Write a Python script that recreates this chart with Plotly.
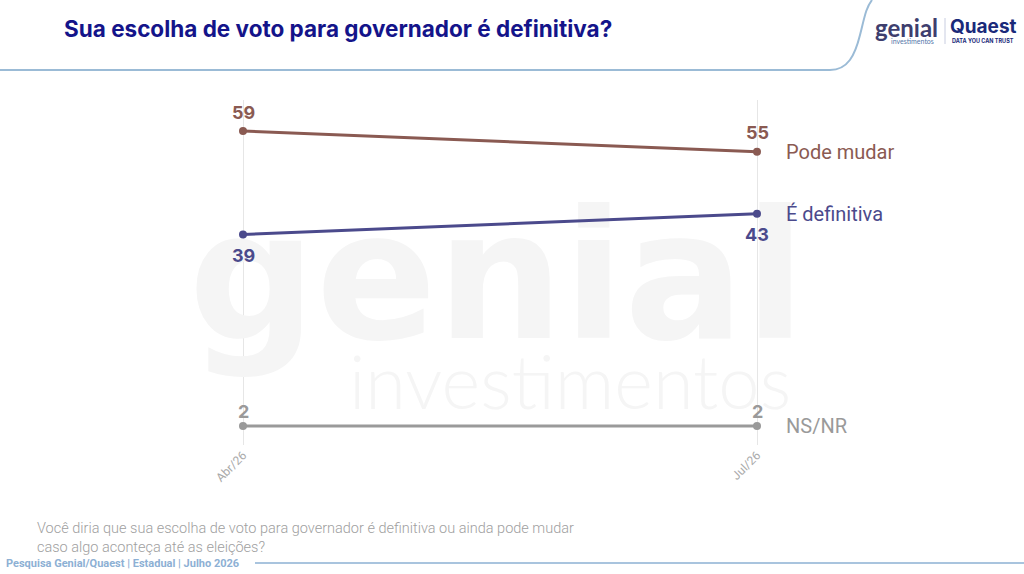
import plotly.graph_objects as go

# ── dados ─────────────────────────────────────────────────────────────────────
periodos = ["Abr/26", "Jul/26"]
pode_mudar = [59, 55]
definitiva = [39, 43]
ns_nr = [2, 2]

# nome, valores, cor, deslocamento do rótulo (px)
series = [
    ("Pode mudar", pode_mudar, "#8a5a52", 19),
    ("É definitiva", definitiva, "#4b4a8c", -21),
    ("NS/NR", ns_nr, "#9a9a9a", 15),
]

W, H = 1024, 574
L, R, T, B = 200, 224, 100, 129
PW, PH = W - L - R, H - T - B


def px(x, y):
    """pixel -> coordenadas paper"""
    return (x - L) / PW, (H - B - y) / PH


def dx(x, y):
    """pixel -> coordenadas de dados (só para a marca d'água)"""
    return (x - 243) / 514, 2 + (426 - y) / 5.175


def texto(x, y, txt, **fonte):
    xx, yy = px(x, y)
    fig.add_annotation(x=xx, y=yy, xref="paper", yref="paper", text=txt,
                       showarrow=False, xanchor="center", yanchor="middle",
                       font=fonte)


fig = go.Figure()

# marca d'água (traço desenhado primeiro para ficar por baixo)
wm = [("genial", 497, 294, 178, "DejaVu Sans", 700),
      ("investimentos", 570, 390, 74, "Lato", 300)]
for txt, wxp, wyp, sz, fam, wt in wm:
    wx, wy = dx(wxp, wyp)
    fig.add_trace(go.Scatter(x=[wx], y=[wy], mode="text", text=[txt],
                             textfont=dict(family=fam, size=sz, color="#f5f5f5", weight=wt),
                             showlegend=False, hoverinfo="skip", cliponaxis=False))

xs = list(range(len(periodos)))
for nome, vals, cor, desloc in series:
    fig.add_trace(go.Scatter(
        x=xs, y=vals, mode="lines+markers",
        line=dict(color=cor, width=3), marker=dict(color=cor, size=8),
        showlegend=False, cliponaxis=False,
    ))
    for xi, v in zip(xs, vals):
        fig.add_annotation(x=xi, y=v, xref="x", yref="y", text=f"<b>{v}</b>",
                           showarrow=False, xanchor="center", yanchor="middle",
                           yshift=desloc,
                           font=dict(family="Inter", size=18, color=cor))
    fig.add_annotation(x=xs[-1], y=vals[-1], xref="x", yref="y", text=nome,
                       showarrow=False, xanchor="left", xshift=27,
                       font=dict(family="Roboto", size=20, color=cor))

# título
tx, ty = px(62, 28)
fig.add_annotation(x=tx, y=ty, xref="paper", yref="paper",
                   text="<b>Sua escolha de voto para governador é definitiva?</b>",
                   showarrow=False, xanchor="left", yanchor="middle",
                   font=dict(family="Inter", size=22.5, color="#14148a"))

# logos
texto(906, 27, "genial", family="Lato", size=24, color="#3e3e6e", weight=700)
texto(912, 41, "investimentos", family="Lato", size=7, color="#5577aa")
a0, a1 = px(945, 18), px(945, 44)
fig.add_shape(type="line", xref="paper", yref="paper", x0=a0[0], y0=a0[1], x1=a1[0], y1=a1[1],
              line=dict(color="#c8cde0", width=1))
texto(983, 26, "<b>Quaest</b>", family="Inter", size=19, color="#1a2a7a")
texto(983, 41, "<b>DATA YOU CAN TRUST</b>", family="Inter", size=5.5, color="#1a2a7a")

# pergunta
qx, qy = px(35, 538)
fig.add_annotation(x=qx, y=qy, xref="paper", yref="paper",
                   text="Você diria que sua escolha de voto para governador é definitiva ou ainda pode mudar<br>caso algo aconteça até as eleições?",
                   showarrow=False, xanchor="left", yanchor="middle", align="left",
                   font=dict(family="Roboto", size=14.5, color="#a0a0a0", weight=300))

# rodapé
fx, fy = px(4, 563)
fig.add_annotation(x=fx, y=fy, xref="paper", yref="paper",
                   text="<b>Pesquisa Genial/Quaest | Estadual | Julho 2026</b>",
                   showarrow=False, xanchor="left", yanchor="middle",
                   font=dict(family="Roboto", size=11, color="#8db0d4"))

x0, y0 = px(255, 563)
x1, y1 = px(1024, 563)
fig.add_shape(type="line", xref="paper", yref="paper", x0=x0, y0=y0, x1=x1, y1=y1,
              line=dict(color="#a9c4de", width=2))

# curva do cabeçalho
a = px(0, 70)
b = px(830, 70)
c1 = px(848, 70)
c2 = px(855, 55)
c = px(860, 35)
s2 = px(866, 8)
d = px(872, 0)
path = (f"M {a[0]} {a[1]} L {b[0]} {b[1]} "
        f"C {c1[0]} {c1[1]} {c2[0]} {c2[1]} {c[0]} {c[1]} "
        f"S {s2[0]} {s2[1]} {d[0]} {d[1]}")
fig.add_shape(type="path", xref="paper", yref="paper", path=path,
              line=dict(color="#9bbbd6", width=2))

fig.update_layout(
    width=W, height=H,
    margin=dict(l=L, r=R, t=T, b=B),
    plot_bgcolor="white", paper_bgcolor="white",
    xaxis=dict(range=[-43 / 514, 1 + 43 / 514], tickvals=xs, ticktext=periodos,
               tickangle=-45, showgrid=True, gridcolor="#e6e6e6", gridwidth=1,
               zeroline=False, showline=False, ticks="",
               tickfont=dict(family="Roboto", size=12, color="#aaaaaa")),
    yaxis=dict(range=[2 - 19 / 5.175, 59 + 31 / 5.175], visible=False, showgrid=False),
)

fig.write_html("out.html", config={"displayModeBar": False},
               post_script="document.body.style.margin='0';document.body.style.overflow='hidden';")
